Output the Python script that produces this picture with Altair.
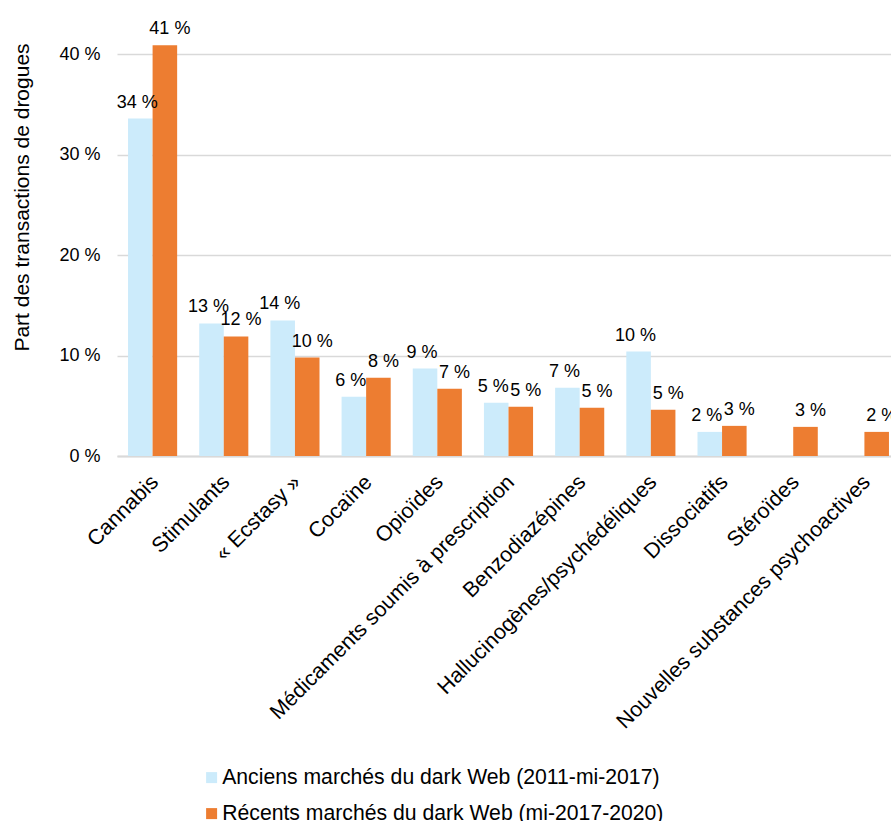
import altair as alt
import pandas as pd

categories = [
    "Cannabis", "Stimulants", "« Ecstasy »", "Cocaïne", "Opioïdes",
    "Médicaments soumis à prescription", "Benzodiazépines",
    "Hallucinogènes/psychédéliques", "Dissociatifs", "Stéroïdes",
    "Nouvelles substances psychoactives",
]
series_names = [
    "Anciens marchés du dark Web (2011-mi-2017)",
    "Récents marchés du dark Web (mi-2017-2020)",
]
old_values = [33.6, 13.2, 13.5, 5.9, 8.7, 5.3, 6.8, 10.4, 2.4, None, None]
new_values = [40.9, 11.9, 9.8, 7.8, 6.7, 4.9, 4.8, 4.6, 3.0, 2.9, 2.4]
y_ticks = [0, 10, 20, 30, 40]
colors = ["#CCEBFB", "#ED7D31"]

rows = []
for s, vals in zip(series_names, [old_values, new_values]):
    for c, v in zip(categories, vals):
        if v is not None:
            rows.append({"categorie": c, "serie": s, "valeur": v})
df = pd.DataFrame(rows)

FONT = "Liberation Sans"

x_enc = alt.X(
    "categorie:N",
    sort=categories,
    scale=alt.Scale(range=[0, 783], paddingInner=0.31, paddingOuter=0.155),
    axis=alt.Axis(
        title=None,
        labelAngle=-45,
        labelAlign="right",
        labelBaseline="top",
        labelFontSize=21.4,
        labelFont=FONT,
        labelColor="#000000",
        labelPadding=15,
        labelOffset=-5,
        labelLimit=500,
        ticks=False,
        domain=True,
        domainColor="#D9D9D9",
        domainWidth=2,
        grid=False,
    ),
)
xo_enc = alt.XOffset("serie:N", sort=series_names, scale=alt.Scale(paddingInner=0, paddingOuter=0))
y_enc = alt.Y(
    "valeur:Q",
    scale=alt.Scale(domain=[0, 45], nice=False),
    axis=alt.Axis(
        title="Part des transactions de drogues",
        titleFont=FONT,
        titleFontSize=21,
        titleFontWeight="normal",
        titleColor="#000000",
        titleAngle=-90,
        titleX=-95,
        titleY=193,
        titleAlign="center",
        titleBaseline="middle",
        values=y_ticks,
        labelExpr="datum.value + ' %'",
        labelFont=FONT,
        labelFontSize=18,
        labelColor="#000000",
        labelPadding=17,
        ticks=False,
        domain=False,
        grid=True,
        gridColor="#D9D9D9",
        gridWidth=1.5,
    ),
)

bars = alt.Chart(df).mark_bar().encode(
    x=x_enc,
    xOffset=xo_enc,
    y=y_enc,
    color=alt.Color(
        "serie:N",
        sort=series_names,
        scale=alt.Scale(domain=series_names, range=colors),
        legend=alt.Legend(
            title=None,
            orient="none",
            legendX=84,
            legendY=763,
            direction="vertical",
            symbolType="square",
            symbolSize=121,
            symbolStrokeWidth=0,
            labelFont=FONT,
            labelFontSize=21.2,
            labelColor="#000000",
            labelOffset=0,
            labelLimit=600,
            rowPadding=14,
            padding=0,
        ),
    ),
)

label_base = alt.Chart(df).transform_calculate(
    lab="round(datum.valeur) + ' %'"
)
label_enc = dict(
    x=alt.X("categorie:N", sort=categories),
    xOffset=alt.XOffset("serie:N", sort=series_names),
    y=alt.Y("valeur:Q"),
    text="lab:N",
)
labels_old = label_base.transform_filter(
    alt.datum.serie == series_names[0]
).mark_text(
    font=FONT, fontSize=18, color="#000000", baseline="alphabetic", dy=-11, dx=-3
).encode(**label_enc)
labels_new = label_base.transform_filter(
    alt.datum.serie == series_names[1]
).mark_text(
    font=FONT, fontSize=18, color="#000000", baseline="alphabetic", dy=-11, dx=5
).encode(**label_enc)

chart = alt.layer(bars, labels_old, labels_new).properties(
    width=774,
    height=452,
    autosize=alt.AutoSizeParams(type="none"),
    padding={"left": 117, "top": 4, "right": 0, "bottom": 365},
    background="#FFFFFF",
).configure_view(stroke=None)

chart.save("out.html", embed_options={"renderer": "svg", "actions": False})
